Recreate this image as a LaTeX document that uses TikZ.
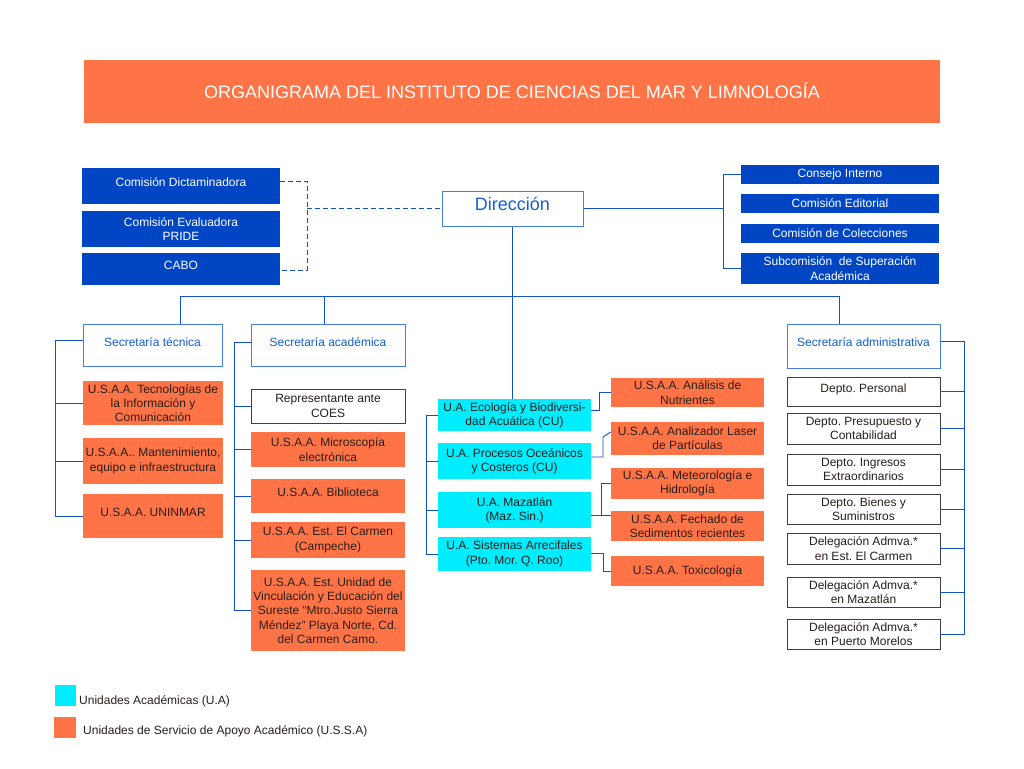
\documentclass[tikz,border=0pt]{standalone}
\usepackage{fontspec}
\setmainfont{Liberation Sans}
\frenchspacing
\definecolor{bblue}{RGB}{0,70,196}
\definecolor{lblue}{RGB}{16,80,200}
\definecolor{tblue}{RGB}{20,95,210}
\definecolor{oran}{RGB}{255,116,70}
\definecolor{cyanb}{RGB}{0,236,255}
\definecolor{dtext}{RGB}{40,30,25}
\begin{document}
\begin{tikzpicture}[x=1pt,y=-1pt,
  base/.style={inner sep=0pt,align=center,font=\fontsize{12}{14.3}\selectfont},
  bluebox/.style={base,fill=bblue,text=white},
  orbox/.style={base,fill=oran,text=dtext},
  cybox/.style={base,fill=cyanb,text=dtext},
  whbox/.style={base,draw=black!75,line width=0.8pt,fill=white,text=dtext},
  secbox/.style={base,draw=tblue!80,line width=1pt,fill=white,text=tblue},
  tup/.style={text height=9pt,text depth={(2.5+2*#1)*1pt}},
  conn/.style={lblue,line width=0.9pt},
  dconn/.style={conn,dash pattern=on 5pt off 3pt},
]
\useasboundingbox (0,0) rectangle (1024,768);
\newcommand\bx[7]{\node[#6,minimum width={(#4-#2)*1pt},minimum height={(#5-#3)*1pt}] (#1) at ({(#2+#4)/2},{(#3+#5)/2}) {#7};}
% title
\node[inner sep=0pt,fill=oran,minimum width=856pt,minimum height=63pt,text=white,font=\fontsize{18}{21}\selectfont] (title) at (512,91) {ORGANIGRAMA DEL INSTITUTO DE CIENCIAS DEL MAR Y LIMNOLOGÍA};
% left blue
\bx{cd}{82}{168}{280}{204}{bluebox,tup=3}{Comisión Dictaminadora}
\bx{ce}{82}{211}{280}{247}{bluebox}{Comisión Evaluadora\\PRIDE}
\bx{cabo}{82}{253}{280}{285}{bluebox,tup=3}{CABO}
% direccion
\node[secbox,minimum width=141pt,minimum height=35pt,font=\fontsize{18}{21}\selectfont,text height=13pt,text depth=9pt] (dir) at (512.5,208.5) {Dirección};
% right blue
\bx{ci}{741}{165}{939}{184}{bluebox}{Consejo Interno}
\bx{cedit}{741}{194}{939}{213}{bluebox}{Comisión Editorial}
\bx{ccol}{741}{224}{939}{243}{bluebox}{Comisión de Colecciones}
\bx{sub}{741}{253}{939}{284}{bluebox}{Subcomisión\ \ de Superación\\Académica}
% secretarias
\bx{st}{83}{324}{222}{366}{secbox,tup=2}{Secretaría técnica}
\bx{sa}{251}{324}{405}{366}{secbox,tup=2}{Secretaría académica}
\bx{sadm}{787}{324}{940}{368}{secbox,tup=3}{Secretaría administrativa}
% col1
\bx{tec}{83}{381}{223}{425}{orbox}{U.S.A.A. Tecnologías de\\la Información y\\Comunicación}
\bx{man}{83}{438}{223}{484}{orbox}{U.S.A.A.. Mantenimiento,\\equipo e infraestructura}
\bx{uni}{83}{494}{223}{538}{orbox,tup=3}{U.S.A.A. UNINMAR}
% col2
\bx{coes}{251}{389}{405}{423}{whbox}{Representante ante\\COES}
\bx{mic}{251}{432}{405}{467}{orbox}{U.S.A.A. Microscopía\\electrónica}
\bx{bib}{251}{479}{405}{513}{orbox,tup=3}{U.S.A.A. Biblioteca}
\bx{car}{251}{522}{405}{558}{orbox}{U.S.A.A. Est. El Carmen\\(Campeche)}
\bx{uvi}{251}{570}{405}{651}{orbox}{U.S.A.A. Est. Unidad de\\Vinculación y Educación del\\Sureste “Mtro.Justo Sierra\\Méndez” Playa Norte, Cd.\\del Carmen Camo.}
% center UA
\bx{ua1}{438}{399}{591}{431}{cybox}{U.A. Ecología y Biodiversi-\\dad Acuática (CU)}
\bx{ua2}{438}{443}{591}{479}{cybox}{U.A. Procesos Oceánicos\\y Costeros (CU)}
\bx{ua3}{438}{492}{591}{528}{cybox}{U.A. Mazatlán\\(Maz. Sin.)}
\bx{ua4}{438}{537}{591}{571}{cybox}{U.A. Sistemas Arrecifales\\(Pto. Mor. Q. Roo)}
% center USAA
\bx{an}{611}{378}{764}{407}{orbox}{U.S.A.A. Análisis de\\Nutrientes}
\bx{al}{611}{422}{764}{455}{orbox}{U.S.A.A. Analizador Laser\\de Partículas}
\bx{me}{611}{468}{764}{499}{orbox}{U.S.A.A. Meteorología e\\Hidrología}
\bx{fe}{611}{511}{764}{541}{orbox}{U.S.A.A. Fechado de\\Sedimentos recientes}
\bx{tx}{611}{556}{764}{586}{orbox}{U.S.A.A. Toxicología}
% right col
\bx{dp}{787}{377}{940}{406}{whbox,tup=2}{Depto. Personal}
\bx{dpc}{787}{413}{940}{444}{whbox}{Depto. Presupuesto y\\Contabilidad}
\bx{die}{787}{454}{940}{485}{whbox}{Depto. Ingresos\\Extraordinarios}
\bx{dbs}{787}{494}{940}{524}{whbox}{Depto. Bienes y\\Suministros}
\bx{dec}{787}{533}{940}{564}{whbox}{Delegación Admva.*\\en Est. El Carmen}
\bx{dma}{787}{577}{940}{607}{whbox}{Delegación Admva.*\\en Mazatlán}
\bx{dpm}{787}{619}{940}{649}{whbox}{Delegación Admva.*\\en Puerto Morelos}
% connectors
\draw[dconn] (cd.east |- 0,181) -| (307,270) -- (cabo.east |- 0,270);
\draw[dconn] (307,208.5) -- (dir.west);
\draw[conn] (dir.east) -- (723,0 |- dir.east);
\draw[conn] (ci.west) -| (723,0 |- sub.west) -- (sub.west);
\draw[conn] (dir.south) -- (dir.south |- ua1.north);
\draw[conn] (180,0 |- st.north) |- (839,296) -- (839,0 |- sadm.north);
\draw[conn] (324,296) -- (324,0 |- sa.north);
% col1
\draw[conn] (st.west |- 0,340) -| (55,0 |- uni.west) -- (uni.west);
\draw[conn] (55,0 |- tec.west) -- (tec.west);
\draw[conn] (55,0 |- man.west) -- (man.west);
% col2
\draw[conn] (sa.west |- 0,342) -| (234,0 |- uvi.west) -- (uvi.west);
\draw[conn] (234,0 |- coes.west) -- (coes.west);
\draw[conn] (234,0 |- mic.west) -- (mic.west);
\draw[conn] (234,0 |- bib.west) -- (bib.west);
\draw[conn] (234,0 |- car.west) -- (car.west);
% center
\draw[conn] (ua1.west) -| (426,0 |- ua4.west) -- (ua4.west);
\draw[conn] (426,0 |- ua2.west) -- (ua2.west);
\draw[conn] (426,0 |- ua3.west) -- (ua3.west);
\draw[conn] (ua1.east |- 0,410) -| (599,0 |- an.west) -- (an.west);
\draw[conn] (ua2.east |- 0,457) -| (603,437) -- (al.west |- 0,432);
\draw[conn] (ua3.east |- 0,515) -- (fe.west |- 0,515);
\draw[conn] (601,515) |- (me.west);
\draw[conn] (ua4.east |- 0,553) -| (603,0 |- tx.west) -- (tx.west);
% right
\draw[conn] (sadm.east |- 0,341) -| (964,0 |- dpm.east) -- (dpm.east);
\foreach \n in {dp,dpc,die,dbs,dec,dma} \draw[conn] (964,0 |- \n.east) -- (\n.east);
% legend
\node[fill=cyanb,minimum width=21pt,minimum height=21pt,inner sep=0pt] (lg1) at (65.5,695.5) {};
\node[anchor=west,inner sep=0pt,font=\fontsize{12}{14}\selectfont,text=dtext] (lt1) at (79,701) {Unidades Académicas (U.A)};
\node[fill=oran,minimum width=22pt,minimum height=21pt,inner sep=0pt] (lg2) at (65,727.5) {};
\node[anchor=west,inner sep=0pt,font=\fontsize{12}{14}\selectfont,text=dtext] (lt2) at (83,731) {Unidades de Servicio de Apoyo Académico (U.S.S.A)};
\end{tikzpicture}
\end{document}
